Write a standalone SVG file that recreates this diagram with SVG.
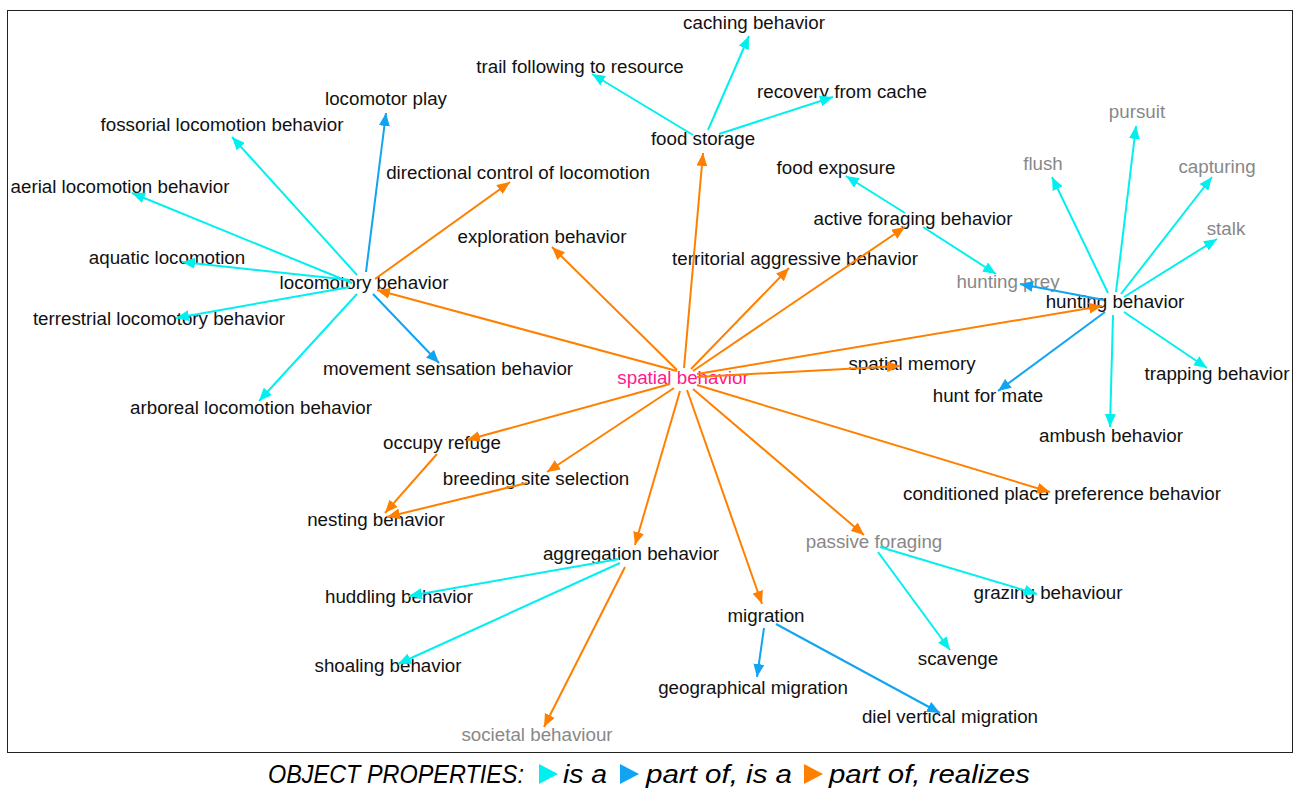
<svg xmlns="http://www.w3.org/2000/svg" width="1298" height="789" viewBox="0 0 1298 789">
<style>
text{font-family:"Liberation Sans",Arial,sans-serif;font-size:18.75px;fill:#111;text-anchor:middle}
text.g{fill:#888}
text.p{fill:#ff1a8c}
.e{fill:none;stroke-width:2}
.c{stroke:#00f0f0}
.b{stroke:#10a4f2}
.o{stroke:#ff8000}
.leg{font-size:25px;font-style:italic;text-anchor:start;fill:#000}
</style>
<defs>
<marker id="ac" markerUnits="userSpaceOnUse" markerWidth="13" markerHeight="11" refX="13" refY="5.5" orient="auto"><path d="M0,0 L13,5.5 L0,11 z" fill="#00f0f0"/></marker>
<marker id="ab" markerUnits="userSpaceOnUse" markerWidth="13" markerHeight="11" refX="13" refY="5.5" orient="auto"><path d="M0,0 L13,5.5 L0,11 z" fill="#10a4f2"/></marker>
<marker id="ao" markerUnits="userSpaceOnUse" markerWidth="13" markerHeight="11" refX="13" refY="5.5" orient="auto"><path d="M0,0 L13,5.5 L0,11 z" fill="#ff8000"/></marker>
</defs>
<rect x="7.5" y="10.5" width="1285" height="742" fill="#fff" stroke="#222" stroke-width="1"/>
<g id="nodes">
<g id="n-caching"><text x="754" y="29">caching behavior</text></g>
<g id="n-trail"><text x="580" y="73">trail following to resource</text></g>
<g id="n-recovery"><text x="842" y="98">recovery from cache</text></g>
<g id="n-foodstorage"><text x="703" y="145">food storage</text></g>
<g id="n-foodexposure"><text x="836" y="174">food exposure</text></g>
<g id="n-activeforaging"><text x="913" y="225">active foraging behavior</text></g>
<g id="n-territorial"><text x="795" y="265">territorial aggressive behavior</text></g>
<g id="n-exploration"><text x="542" y="243">exploration behavior</text></g>
<g id="n-directional"><text x="518" y="179">directional control of locomotion</text></g>
<g id="n-locomotorplay"><text x="386" y="105">locomotor play</text></g>
<g id="n-fossorial"><text x="222" y="131">fossorial locomotion behavior</text></g>
<g id="n-aerial"><text x="120" y="193">aerial locomotion behavior</text></g>
<g id="n-aquatic"><text x="167" y="264">aquatic locomotion</text></g>
<g id="n-locomotory"><text x="364" y="289">locomotory behavior</text></g>
<g id="n-terrestrial"><text x="159" y="325">terrestrial locomotory behavior</text></g>
<g id="n-movement"><text x="448" y="375">movement sensation behavior</text></g>
<g id="n-arboreal"><text x="251" y="414">arboreal locomotion behavior</text></g>
<g id="n-spatial"><text class="p" x="683" y="384">spatial behavior</text></g>
<g id="n-spatialmemory"><text x="912" y="370">spatial memory</text></g>
<g id="n-huntformate"><text x="988" y="402">hunt for mate</text></g>
<g id="n-hunting"><text x="1115" y="308">hunting behavior</text></g>
<g id="n-huntingprey"><text class="g" x="1008" y="288">hunting prey</text></g>
<g id="n-flush"><text class="g" x="1043" y="170">flush</text></g>
<g id="n-pursuit"><text class="g" x="1137" y="118">pursuit</text></g>
<g id="n-capturing"><text class="g" x="1217" y="173">capturing</text></g>
<g id="n-stalk"><text class="g" x="1226" y="235">stalk</text></g>
<g id="n-trapping"><text x="1217" y="380">trapping behavior</text></g>
<g id="n-ambush"><text x="1111" y="442">ambush behavior</text></g>
<g id="n-conditioned"><text x="1062" y="500">conditioned place preference behavior</text></g>
<g id="n-occupy"><text x="442" y="449">occupy refuge</text></g>
<g id="n-breeding"><text x="536" y="485">breeding site selection</text></g>
<g id="n-nesting"><text x="376" y="526">nesting behavior</text></g>
<g id="n-aggregation"><text x="631" y="560">aggregation behavior</text></g>
<g id="n-huddling"><text x="399" y="603">huddling behavior</text></g>
<g id="n-shoaling"><text x="388" y="672">shoaling behavior</text></g>
<g id="n-societal"><text class="g" x="537" y="741">societal behaviour</text></g>
<g id="n-migration"><text x="766" y="622">migration</text></g>
<g id="n-geographical"><text x="753" y="694">geographical migration</text></g>
<g id="n-diel"><text x="950" y="723">diel vertical migration</text></g>
<g id="n-passive"><text class="g" x="874" y="548">passive foraging</text></g>
<g id="n-grazing"><text x="1048" y="599">grazing behaviour</text></g>
<g id="n-scavenge"><text x="958" y="665">scavenge</text></g>
</g>
<g id="connectors">
<line class="e c" x1="357" y1="275" x2="232" y2="137" marker-end="url(#ac)"/>
<line class="e c" x1="352" y1="283" x2="132" y2="193" marker-end="url(#ac)"/>
<line class="e c" x1="350" y1="280" x2="182" y2="262" marker-end="url(#ac)"/>
<line class="e c" x1="350" y1="287" x2="176" y2="318" marker-end="url(#ac)"/>
<line class="e c" x1="357" y1="294" x2="259" y2="401" marker-end="url(#ac)"/>
<line class="e b" x1="366" y1="272" x2="386" y2="113" marker-end="url(#ab)"/>
<line class="e b" x1="373" y1="294" x2="439" y2="363" marker-end="url(#ab)"/>
<line class="e o" x1="375" y1="279" x2="510" y2="182" marker-end="url(#ao)"/>
<line class="e o" x1="677" y1="371" x2="377" y2="290" marker-end="url(#ao)"/>
<line class="e o" x1="677" y1="370" x2="552" y2="247" marker-end="url(#ao)"/>
<line class="e o" x1="684" y1="368" x2="703" y2="153" marker-end="url(#ao)"/>
<line class="e o" x1="691" y1="369" x2="789" y2="268" marker-end="url(#ao)"/>
<line class="e o" x1="693" y1="371" x2="905" y2="227" marker-end="url(#ao)"/>
<line class="e o" x1="697" y1="374" x2="1102" y2="306" marker-end="url(#ao)"/>
<line class="e o" x1="697" y1="377" x2="900" y2="366" marker-end="url(#ao)"/>
<line class="e o" x1="697" y1="385" x2="1050" y2="492" marker-end="url(#ao)"/>
<line class="e o" x1="693" y1="389" x2="864" y2="535" marker-end="url(#ao)"/>
<line class="e o" x1="687" y1="390" x2="762" y2="604" marker-end="url(#ao)"/>
<line class="e o" x1="680" y1="391" x2="635" y2="545" marker-end="url(#ao)"/>
<line class="e o" x1="674" y1="388" x2="547" y2="472" marker-end="url(#ao)"/>
<line class="e o" x1="670" y1="384" x2="467" y2="440" marker-end="url(#ao)"/>
<line class="e o" x1="437" y1="454" x2="385" y2="513" marker-end="url(#ao)"/>
<line class="e o" x1="527" y1="483" x2="387" y2="517" marker-end="url(#ao)"/>
<line class="e o" x1="625" y1="567" x2="544" y2="727" marker-end="url(#ao)"/>
<line class="e c" x1="619" y1="559" x2="409" y2="596" marker-end="url(#ac)"/>
<line class="e c" x1="620" y1="563" x2="398" y2="664" marker-end="url(#ac)"/>
<line class="e c" x1="880" y1="547" x2="1037" y2="594" marker-end="url(#ac)"/>
<line class="e c" x1="878" y1="552" x2="950" y2="650" marker-end="url(#ac)"/>
<line class="e c" x1="693" y1="135" x2="592" y2="74" marker-end="url(#ac)"/>
<line class="e c" x1="708" y1="130" x2="749" y2="36" marker-end="url(#ac)"/>
<line class="e c" x1="719" y1="134" x2="833" y2="97" marker-end="url(#ac)"/>
<line class="e c" x1="905" y1="213" x2="846" y2="176" marker-end="url(#ac)"/>
<line class="e c" x1="923" y1="227" x2="996" y2="274" marker-end="url(#ac)"/>
<line class="e c" x1="1108" y1="293" x2="1052" y2="177" marker-end="url(#ac)"/>
<line class="e c" x1="1116" y1="292" x2="1136" y2="126" marker-end="url(#ac)"/>
<line class="e c" x1="1121" y1="294" x2="1212" y2="177" marker-end="url(#ac)"/>
<line class="e c" x1="1124" y1="297" x2="1217" y2="239" marker-end="url(#ac)"/>
<line class="e c" x1="1124" y1="312" x2="1207" y2="368" marker-end="url(#ac)"/>
<line class="e c" x1="1113" y1="315" x2="1110" y2="427" marker-end="url(#ac)"/>
<line class="e b" x1="1104" y1="300" x2="1020" y2="284" marker-end="url(#ab)"/>
<line class="e b" x1="1105" y1="312" x2="998" y2="391" marker-end="url(#ab)"/>
<line class="e b" x1="764" y1="628" x2="757" y2="677" marker-end="url(#ab)"/>
<line class="e b" x1="776" y1="624" x2="940" y2="713" marker-end="url(#ab)"/>
</g>
<g id="legend">
<text class="leg" x="268" y="783" textLength="256" lengthAdjust="spacingAndGlyphs">OBJECT PROPERTIES:</text>
<polygon points="539,764 558,774 539,784" fill="#00f0f0"/>
<text class="leg" x="563" y="783" textLength="44" lengthAdjust="spacingAndGlyphs">is a</text>
<polygon points="620,764 639,774 620,784" fill="#10a4f2"/>
<text class="leg" x="646" y="783" textLength="146" lengthAdjust="spacingAndGlyphs">part of, is a</text>
<polygon points="804,764 823,774 804,784" fill="#ff8000"/>
<text class="leg" x="829" y="783" textLength="201" lengthAdjust="spacingAndGlyphs">part of, realizes</text>
</g>
</svg>
